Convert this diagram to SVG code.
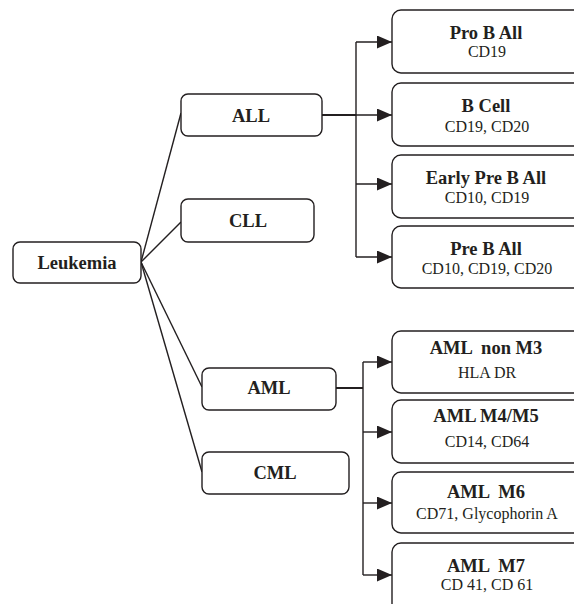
<svg xmlns="http://www.w3.org/2000/svg" width="574" height="604" viewBox="0 0 574 604">
<style>
.box{fill:#fff;stroke:#231f20;stroke-width:1.4}
.ln{fill:none;stroke:#231f20;stroke-width:1.4}
.t{font-family:"Liberation Serif","Times New Roman",serif;font-weight:bold;font-size:18.5px;fill:#231f20;text-anchor:middle}
.s{font-family:"Liberation Serif","Times New Roman",serif;font-size:16px;fill:#231f20;text-anchor:middle}
</style>
<defs>
<marker id="ah" viewBox="0 0 15 13" refX="15" refY="6.5" markerWidth="15" markerHeight="13" markerUnits="userSpaceOnUse" orient="auto">
<path d="M0,0 L15,6.5 L0,13 Z" fill="#231f20"/>
</marker>
</defs>
<rect width="574" height="604" fill="#fff"/>
<g id="connectors">
<path class="ln" d="M141,262 L181,113"/>
<path class="ln" d="M141,262 L181,222"/>
<path class="ln" d="M141,262 L202,387"/>
<path class="ln" d="M141,262 L202,472"/>
<path class="ln" style="stroke-width:2" d="M322,115 L356,115"/>
<path class="ln" d="M356,42 L356,257"/>
<path class="ln" d="M356,42 L392,42" marker-end="url(#ah)"/>
<path class="ln" d="M356,115 L392,115" marker-end="url(#ah)"/>
<path class="ln" d="M356,184 L392,184" marker-end="url(#ah)"/>
<path class="ln" d="M356,257 L392,257" marker-end="url(#ah)"/>
<path class="ln" style="stroke-width:2" d="M336,388 L363,388"/>
<path class="ln" d="M363,362 L363,575"/>
<path class="ln" d="M363,362 L392,362" marker-end="url(#ah)"/>
<path class="ln" d="M363,432 L392,432" marker-end="url(#ah)"/>
<path class="ln" d="M363,503 L392,503" marker-end="url(#ah)"/>
<path class="ln" d="M363,575 L392,575" marker-end="url(#ah)"/>
</g>
<g id="leukemia"><rect class="box" x="13" y="242" width="128" height="41" rx="7"/><text class="t" x="77" y="269">Leukemia</text></g>
<g id="all"><rect class="box" x="181" y="94" width="141" height="42" rx="7"/><text class="t" x="251" y="122">ALL</text></g>
<g id="cll"><rect class="box" x="181" y="199" width="133" height="43" rx="7"/><text class="t" x="248" y="227">CLL</text></g>
<g id="aml"><rect class="box" x="202" y="368" width="134" height="42" rx="7"/><text class="t" x="269" y="394">AML</text></g>
<g id="cml"><rect class="box" x="202" y="452" width="147" height="42" rx="7"/><text class="t" x="275" y="479">CML</text></g>
<g id="pro-b-all"><rect class="box" x="392" y="10" width="190" height="63" rx="9"/><text class="t" x="486" y="39">Pro B All</text><text class="s" x="487" y="57">CD19</text></g>
<g id="b-cell"><rect class="box" x="392" y="83" width="190" height="63" rx="9"/><text class="t" x="486" y="112">B Cell</text><text class="s" x="487" y="132">CD19, CD20</text></g>
<g id="early-pre-b-all"><rect class="box" x="392" y="155" width="190" height="63" rx="9"/><text class="t" x="486" y="184">Early Pre B All</text><text class="s" x="487" y="203">CD10, CD19</text></g>
<g id="pre-b-all"><rect class="box" x="392" y="226" width="190" height="62" rx="9"/><text class="t" x="486" y="255">Pre B All</text><text class="s" x="487" y="274">CD10, CD19, CD20</text></g>
<g id="aml-non-m3"><rect class="box" x="392" y="331" width="190" height="62" rx="9"/><text class="t" x="486" y="354" xml:space="preserve">AML  non M3</text><text class="s" x="487" y="378">HLA DR</text></g>
<g id="aml-m4m5"><rect class="box" x="392" y="400" width="190" height="63" rx="9"/><text class="t" x="486" y="422">AML M4/M5</text><text class="s" x="487" y="447">CD14, CD64</text></g>
<g id="aml-m6"><rect class="box" x="392" y="472" width="190" height="61" rx="9"/><text class="t" x="486" y="498" xml:space="preserve">AML  M6</text><text class="s" x="487" y="519">CD71, Glycophorin A</text></g>
<g id="aml-m7"><rect class="box" x="392" y="543" width="190" height="70" rx="9"/><text class="t" x="486" y="572" xml:space="preserve">AML  M7</text><text class="s" x="487" y="590">CD 41, CD 61</text></g>
</svg>
